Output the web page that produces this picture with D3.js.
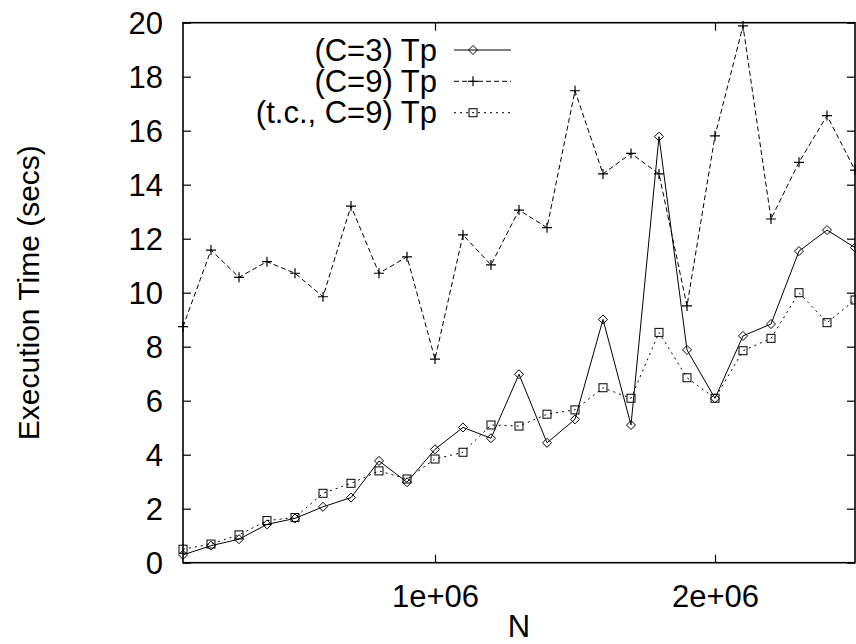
<!DOCTYPE html>
<html>
<head>
<meta charset="utf-8">
<script src="https://cdn.jsdelivr.net/npm/d3@7"></script>
<style>
  html, body { margin: 0; padding: 0; background: #fff; }
  svg { display: block; }
  text { font-family: "Liberation Sans", Arial, Helvetica, sans-serif; fill: #000; }
</style>
</head>
<body>
<div id="chart"></div>
<script>
// problem size N
const nValues = [100000, 200000, 300000, 400000, 500000, 600000, 700000, 800000, 900000, 1000000,
                 1100000, 1200000, 1300000, 1400000, 1500000, 1600000, 1700000, 1800000, 1900000, 2000000,
                 2100000, 2200000, 2300000, 2400000, 2500000];

// execution times (secs)
const c3Tp = [0.29, 0.63, 0.87, 1.42, 1.64, 2.07, 2.41, 3.77, 2.98, 4.20,
              5.01, 4.61, 6.98, 4.44, 5.31, 9.01, 5.10, 15.78, 7.88, 6.09,
              8.40, 8.84, 11.54, 12.32, 11.67];
const c9Tp = [8.74, 11.58, 10.57, 11.15, 10.72, 9.85, 13.21, 10.72, 11.33, 7.54,
              12.14, 11.03, 13.06, 12.41, 17.48, 14.40, 15.16, 14.40, 9.51, 15.81,
              19.88, 12.73, 14.83, 16.56, 14.54];
const tcC9Tp = [0.50, 0.69, 1.03, 1.56, 1.67, 2.57, 2.94, 3.40, 3.10, 3.84,
                4.09, 5.10, 5.06, 5.50, 5.66, 6.48, 6.09, 8.53, 6.85, 6.09,
                7.85, 8.31, 10.00, 8.89, 9.73];

const seriesNames = ["(C=3) Tp", "(C=9) Tp", "(t.c., C=9) Tp"];
const yTicks = [0, 2, 4, 6, 8, 10, 12, 14, 16, 18, 20];
const xTicks = [1000000, 2000000];

const width = 856, height = 644;
const margin = { top: 22.7, right: 1, bottom: 81.3, left: 183 };
const fontSize = 31;

const svg = d3.select("#chart").append("svg")
    .attr("width", width)
    .attr("height", height);

const x = d3.scaleLinear()
    .domain([100000, 2500000])
    .range([margin.left, width - margin.right]);

const y = d3.scaleLinear()
    .domain([0, 20])
    .range([height - margin.bottom, margin.top]);

const tickLen = 8;

// axes (ticks point inward, mirrored on opposite sides)
const gx = svg.append("g")
    .attr("transform", `translate(0,${y(0)})`)
    .call(d3.axisBottom(x).tickValues(xTicks).tickSize(-tickLen).tickPadding(tickLen + 8)
        .tickFormat(d => d3.format(".0e")(d).replace(/e\+(\d)$/, "e+0$1")));
gx.select(".domain").remove();
gx.selectAll("text").attr("font-size", fontSize).attr("dy", "0.9em");

svg.append("g")
    .attr("transform", `translate(0,${y(20)})`)
    .call(d3.axisTop(x).tickValues(xTicks).tickSize(-tickLen).tickFormat(""))
    .call(g => g.select(".domain").remove());

const gy = svg.append("g")
    .attr("transform", `translate(${x(100000)},0)`)
    .call(d3.axisLeft(y).tickValues(yTicks).tickSize(-tickLen).tickPadding(tickLen + 12));
gy.select(".domain").remove();
gy.selectAll("text").attr("font-size", fontSize).attr("dy", "0.35em");

svg.append("g")
    .attr("transform", `translate(${x(2500000)},0)`)
    .call(d3.axisRight(y).tickValues(yTicks).tickSize(-tickLen).tickFormat(""))
    .call(g => g.select(".domain").remove());

svg.selectAll(".tick line").attr("stroke", "#000").attr("stroke-width", 1.2);

// frame
svg.append("rect")
    .attr("x", x(100000))
    .attr("y", y(20))
    .attr("width", x(2500000) - x(100000))
    .attr("height", y(0) - y(20))
    .attr("fill", "none")
    .attr("stroke", "#000")
    .attr("stroke-width", 1.6);

// axis titles
svg.append("text")
    .attr("x", (x(100000) + x(2500000)) / 2)
    .attr("y", 626)
    .attr("text-anchor", "middle")
    .attr("dominant-baseline", "central")
    .attr("font-size", fontSize)
    .text("N");

svg.append("text")
    .attr("transform", `translate(28,${(y(0) + y(20)) / 2}) rotate(-90)`)
    .attr("text-anchor", "middle")
    .attr("dominant-baseline", "central")
    .attr("font-size", fontSize - 1)
    .text("Execution Time (secs)");

// markers
const drawMarker = (g, kind, cx, cy) => {
    if (kind === "diamond") {
        const r = 4.5;
        g.append("path")
            .attr("d", `M${cx},${cy - r}L${cx + r},${cy}L${cx},${cy + r}L${cx - r},${cy}Z`)
            .attr("fill", "none").attr("stroke", "#000").attr("stroke-width", 1);
    } else if (kind === "plus") {
        const r = 5;
        g.append("path")
            .attr("d", `M${cx - r},${cy}H${cx + r}M${cx},${cy - r}V${cy + r}`)
            .attr("fill", "none").attr("stroke", "#000").attr("stroke-width", 1.2);
    } else {
        const r = 4;
        g.append("rect")
            .attr("x", cx - r).attr("y", cy - r)
            .attr("width", 2 * r).attr("height", 2 * r)
            .attr("fill", "none").attr("stroke", "#000").attr("stroke-width", 1);
    }
};

const series = [
    { name: seriesNames[0], values: c3Tp, dash: null, marker: "diamond" },
    { name: seriesNames[1], values: c9Tp, dash: "5,3", marker: "plus" },
    { name: seriesNames[2], values: tcC9Tp, dash: "2,4", marker: "square" }
];

const line = d3.line()
    .x((d, i) => x(nValues[i]))
    .y(d => y(d));

series.forEach(s => {
    const g = svg.append("g");
    g.append("path")
        .datum(s.values)
        .attr("d", line)
        .attr("fill", "none")
        .attr("stroke", "#000")
        .attr("stroke-width", 1)
        .attr("stroke-dasharray", s.dash);
    s.values.forEach((v, i) => drawMarker(g, s.marker, x(nValues[i]), y(v)));
});

// legend
const legendY = [50, 81.3, 112.7];
series.forEach((s, i) => {
    const g = svg.append("g");
    g.append("text")
        .attr("x", 437)
        .attr("y", legendY[i])
        .attr("text-anchor", "end")
        .attr("dominant-baseline", "central")
        .attr("font-size", fontSize)
        .text(s.name);
    g.append("line")
        .attr("x1", 454).attr("x2", 511)
        .attr("y1", legendY[i]).attr("y2", legendY[i])
        .attr("stroke", "#000")
        .attr("stroke-width", 1)
        .attr("stroke-dasharray", s.dash);
    drawMarker(g, s.marker, 473, legendY[i]);
});
</script>
</body>
</html>
